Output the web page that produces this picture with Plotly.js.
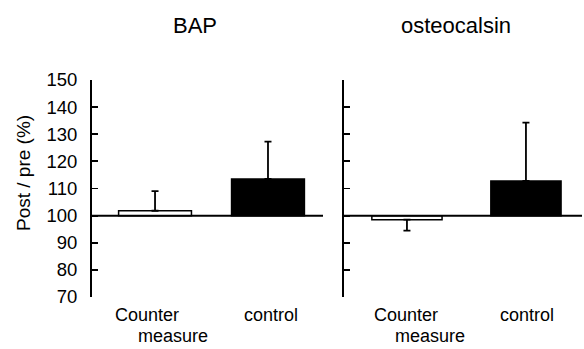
<!DOCTYPE html>
<html>
<head>
<meta charset="utf-8">
<script src="https://cdn.plot.ly/plotly-3.0.1.min.js"></script>
<style>html,body{margin:0;padding:0;background:#fff;}#chart{width:584px;height:349px;}</style>
</head>
<body>
<div id="chart"></div>
<script>
// ---- data ----
var categories = ["Counter measure", "control"];
var panelTitles = ["BAP", "osteocalsin"];
var bapValues = [101.8, 113.5];
var bapErrPlus = [7.2, 13.8];
var bapErrMinus = [0, 0];
var oscValues = [98.5, 112.8];
var oscErrPlus = [0, 21.5];
var oscErrMinus = [4.0, 0];
var yTickVals = [70, 80, 90, 100, 110, 120, 130, 140, 150];
var baseline = 100;
var yTitle = "Post / pre (%)";
var labelLine1 = ["Counter", "control"];
var labelLine2 = ["measure", ""];

var W = 584, H = 349;
var font = "Liberation Sans, Arial, sans-serif";
var fills = ["#ffffff", "#000000"];

function barTrace(vals, xa, ya, width) {
  return {
    type: "bar", x: [0, 1], y: vals.map(function (v) { return v - baseline; }),
    base: baseline, xaxis: xa, yaxis: ya, width: width,
    marker: { color: fills, line: { color: "#000", width: 1.5 } },
    hoverinfo: "skip", showlegend: false
  };
}
function errTrace(vals, plus, minus, xa, ya) {
  return {
    type: "scatter", mode: "markers", x: [0, 1], y: vals, xaxis: xa, yaxis: ya,
    marker: { opacity: 0, size: 1 },
    error_y: { type: "data", symmetric: false, array: plus, arrayminus: minus,
      color: "#000", thickness: 1.8, width: 3.5 },
    hoverinfo: "skip", showlegend: false
  };
}

var traces = [
  barTrace(bapValues, "x", "y", 0.645),
  errTrace(bapValues, bapErrPlus, bapErrMinus, "x", "y"),
  barTrace(oscValues, "x2", "y2", 0.59),
  errTrace(oscValues, oscErrPlus, oscErrMinus, "x2", "y2")
];

var yBase = {
  range: [70, 150], tickvals: yTickVals, ticks: "inside", ticklen: 6, tickwidth: 1.8,
  tickcolor: "#000", showline: true, linecolor: "#000", linewidth: 2,
  showgrid: false, zeroline: false, fixedrange: true,
  tickfont: { family: font, size: 18.5, color: "#000" }
};
var y1 = Object.assign({}, yBase, { anchor: "x", ticklabelstandoff: 9 });
var y2 = Object.assign({}, yBase, { anchor: "x2", showticklabels: false });

var xBase = { showline: false, showgrid: false, zeroline: false, showticklabels: false, ticks: "", fixedrange: true };
var x1 = Object.assign({}, xBase, { domain: [92 / W, 323 / W], range: [-0.558, 1.487], anchor: "y" });
var x2 = Object.assign({}, xBase, { domain: [344 / W, 582 / W], range: [-0.529, 1.471], anchor: "y2" });

var plotTop = 80, plotBot = 297;
function px(xp) { return xp / W; }
function py(yp) { return (plotBot - yp) / (plotBot - plotTop); }

var annotations = [];
annotations.push({ text: panelTitles[0], xref: "paper", yref: "paper", x: px(195), y: py(25), showarrow: false,
  xanchor: "center", yanchor: "middle", font: { family: font, size: 22, color: "#000" } });
annotations.push({ text: panelTitles[1], xref: "paper", yref: "paper", x: px(456), y: py(25), showarrow: false,
  xanchor: "center", yanchor: "middle", font: { family: font, size: 22, color: "#000" } });
annotations.push({ text: yTitle, xref: "paper", yref: "paper", x: px(23), y: py(173), textangle: -90, showarrow: false,
  xanchor: "center", yanchor: "middle", font: { family: font, size: 19, color: "#000" } });

// category labels (two lines)
var shifts1 = [[-8, 26], [3, 0]];
var shifts2 = [[-1, 24], [1, 0]];
[["x", shifts1], ["x2", shifts2]].forEach(function (p) {
  var xa = p[0], sh = p[1];
  for (var i = 0; i < categories.length; i++) {
    annotations.push({ text: labelLine1[i], xref: xa, yref: "paper", x: i, y: py(315), xshift: sh[i][0],
      showarrow: false, xanchor: "center", yanchor: "middle", font: { family: font, size: 18, color: "#000" } });
    if (labelLine2[i]) {
      annotations.push({ text: labelLine2[i], xref: xa, yref: "paper", x: i, y: py(336), xshift: sh[i][0] + sh[i][1],
        showarrow: false, xanchor: "center", yanchor: "middle", font: { family: font, size: 18, color: "#000" } });
    }
  }
});

var shapes = [
  { type: "line", xref: "x domain", yref: "y", x0: 0, x1: 1, y0: baseline, y1: baseline, line: { color: "#000", width: 2 } },
  { type: "line", xref: "x2 domain", yref: "y2", x0: 0, x1: 1, y0: baseline, y1: baseline, line: { color: "#000", width: 2 } }
];

var layout = {
  width: W, height: H, margin: { l: 0, r: 0, t: plotTop, b: H - plotBot, pad: 0 },
  paper_bgcolor: "#fff", plot_bgcolor: "#fff",
  xaxis: x1, yaxis: y1, xaxis2: x2, yaxis2: y2,
  annotations: annotations, shapes: shapes, showlegend: false, bargap: 0
};

Plotly.newPlot("chart", traces, layout, { staticPlot: true, displayModeBar: false });
</script>
</body>
</html>
